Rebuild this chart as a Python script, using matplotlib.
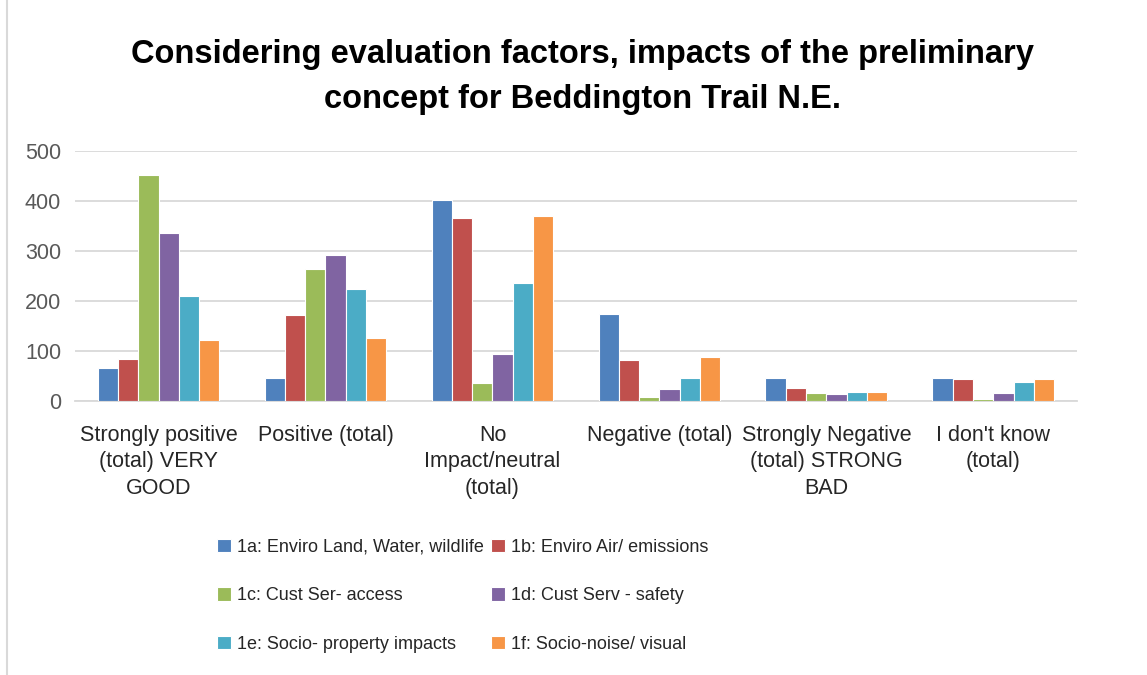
import numpy as np
import matplotlib.pyplot as plt

categories = ["Strongly positive\n(total) VERY\nGOOD", "Positive (total)",
              "No\nImpact/neutral\n(total)", "Negative (total)",
              "Strongly Negative\n(total) STRONG\nBAD", "I don't know\n(total)"]
series_names = ["1a: Enviro Land, Water, wildlife", "1b: Enviro Air/ emissions",
                "1c: Cust Ser- access", "1d: Cust Serv - safety",
                "1e: Socio- property impacts", "1f: Socio-noise/ visual"]
s1a = [65, 45, 402, 174, 45, 45]
s1b = [83, 172, 366, 82, 25, 43]
s1c = [453, 265, 35, 7, 15, 3]
s1d = [337, 293, 93, 23, 13, 15]
s1e = [211, 224, 237, 45, 18, 38]
s1f = [122, 126, 371, 88, 18, 43]
series = [s1a, s1b, s1c, s1d, s1e, s1f]
colors = ["#4F81BD", "#C0504D", "#9BBB59", "#8064A2", "#4BACC6", "#F79646"]

plt.rcParams['font.family'] = ['Liberation Sans', 'DejaVu Sans']

fig = plt.figure(figsize=(11.47, 6.75), dpi=100)
ax = fig.add_axes([0.0654, 0.406, 0.8735, 0.370])

x = np.arange(len(categories))
group_w = 0.73
bw = group_w / 6
handles = []
for i, (vals, name, c) in enumerate(zip(series, series_names, colors)):
    h = ax.bar(x - group_w / 2 + bw * (i + 0.5), vals, width=bw, color=c,
               edgecolor='white', linewidth=0.8, label=name, zorder=3)
    handles.append(h)

ax.set_xlim(-0.5, len(categories) - 0.5)
ax.set_ylim(0, 500)
ax.set_yticks(range(0, 501, 100))
ax.yaxis.grid(True, color='#D9D9D9', linewidth=1.3, zorder=0)
ax.set_xticks(x)
ax.set_xticklabels(categories, fontsize=15.5, color='#262626', linespacing=1.35)
ax.tick_params(axis='y', labelsize=15.5, labelcolor='#595959', length=0, pad=10)
ax.tick_params(axis='x', length=0, pad=17)
for sp in ['top', 'right', 'left']:
    ax.spines[sp].set_visible(False)
ax.spines['bottom'].set_color('#D9D9D9')
ax.spines['bottom'].set_linewidth(1.3)

fig.text(0.508, 0.886, "Considering evaluation factors, impacts of the preliminary\nconcept for Beddington Trail N.E.",
         fontsize=23.5, fontweight='bold', ha='center', va='center', linespacing=1.55)

# legend: two columns placed separately, filled row by row
leg_kw = dict(frameon=False, fontsize=13, handlelength=0.75, handleheight=0.75,
              handletextpad=0.35, labelspacing=1.75, labelcolor='#262626', loc='upper left')
leg1 = fig.legend([handles[0], handles[2], handles[4]],
                  [series_names[0], series_names[2], series_names[4]],
                  bbox_to_anchor=(0.175, 0.226), **leg_kw)
leg2 = fig.legend([handles[1], handles[3], handles[5]],
                  [series_names[1], series_names[3], series_names[5]],
                  bbox_to_anchor=(0.414, 0.226), **leg_kw)

fig.add_artist(plt.Line2D([0.006, 0.006], [0, 1], color='#D9D9D9', linewidth=1.5))

fig.savefig("out.png", dpi=100)
